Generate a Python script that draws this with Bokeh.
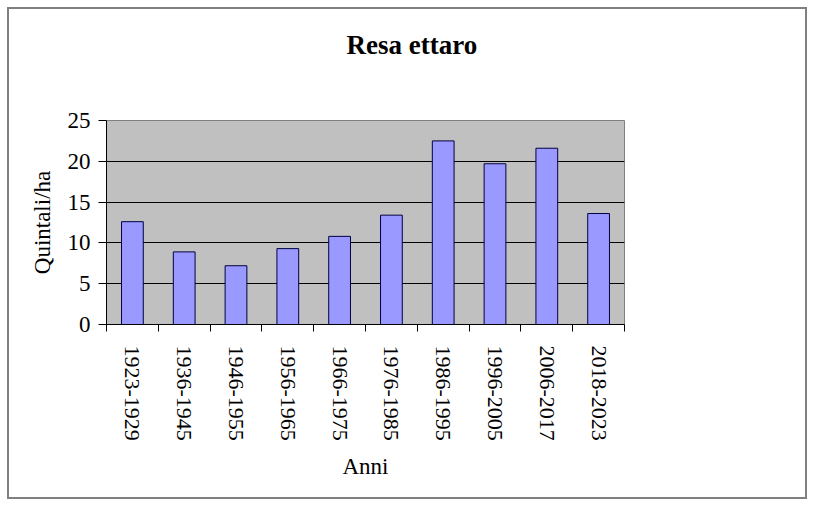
import math
from bokeh.plotting import figure
from bokeh.models import FixedTicker, ColumnDataSource, Title
from bokeh.embed import file_html
from bokeh.resources import INLINE

categories = ["1923-1929", "1936-1945", "1946-1955", "1956-1965", "1966-1975",
              "1976-1985", "1986-1995", "1996-2005", "2006-2017", "2018-2023"]
values = [12.6, 8.9, 7.2, 9.3, 10.8, 13.4, 22.5, 19.7, 21.6, 13.6]
y_ticks = [0, 5, 10, 15, 20, 25]

xs = [i + 0.5 for i in range(len(categories))]
src = ColumnDataSource(dict(x=xs, top=values, cat=categories))

FONT = "Liberation Serif"
W, H = 800, 492

p = figure(width=W, height=H, output_backend="svg", toolbar_location=None,
           x_range=(0, len(categories)), y_range=(0, 25),
           min_border_left=97, min_border_right=185, min_border_top=111, min_border_bottom=177)
p.styles = {"border": "2px solid #808080", "margin": "7px"}
p.title = None

spacer = Title(text=" ", text_font_size="1px", standoff=56, align="left")
p.add_layout(spacer, "above")
title = Title(text="Resa ettaro", align="left", offset=240, vertical_align="top", standoff=0,
              text_font=FONT, text_font_size="27px", text_font_style="bold", text_color="black")
p.add_layout(title, "above")

p.background_fill_color = "#c0c0c0"
p.border_fill_color = "white"
p.outline_line_color = "#808080"
p.outline_line_width = 1

p.vbar(x="x", top="top", width=0.42, bottom=0, source=src,
       fill_color="#9999ff", line_color="#000040", line_width=1)

# x axis
p.xaxis.ticker = FixedTicker(ticks=xs, minor_ticks=list(range(len(categories) + 1)))
p.xaxis.major_label_overrides = {x: c for x, c in zip(xs, categories)}
p.xaxis.major_label_orientation = -math.pi / 2
p.xaxis.major_tick_out = 0
p.xaxis.major_tick_in = 0
p.xaxis.minor_tick_out = 7
p.xaxis.minor_tick_in = 0
p.xaxis.minor_tick_line_color = "black"
p.xaxis.major_label_standoff = 14
p.xaxis.axis_label = "Anni"
p.xaxis.axis_label_standoff = 10

# y axis
p.yaxis.ticker = FixedTicker(ticks=y_ticks, minor_ticks=[])
p.yaxis.major_tick_out = 8
p.yaxis.major_tick_in = 0
p.yaxis.major_label_standoff = 8
p.yaxis.axis_label = "Quintali/ha"
p.yaxis.axis_label_standoff = 10

for ax in (p.xaxis, p.yaxis):
    ax.axis_line_color = "black"
    ax.major_tick_line_color = "black"
    ax.major_label_text_font = FONT
    ax.major_label_text_font_size = "23px"
    ax.major_label_text_color = "black"
    ax.axis_label_text_font = FONT
    ax.axis_label_text_font_size = "23px"
    ax.axis_label_text_font_style = "normal"
    ax.axis_label_text_color = "black"
p.xaxis.major_label_text_font_size = "22px"

p.xgrid.grid_line_color = None
p.ygrid.ticker = FixedTicker(ticks=[5, 10, 15, 20])
p.ygrid.grid_line_color = "black"
p.ygrid.grid_line_width = 1

open("out.html", "w").write(file_html(p, INLINE))
